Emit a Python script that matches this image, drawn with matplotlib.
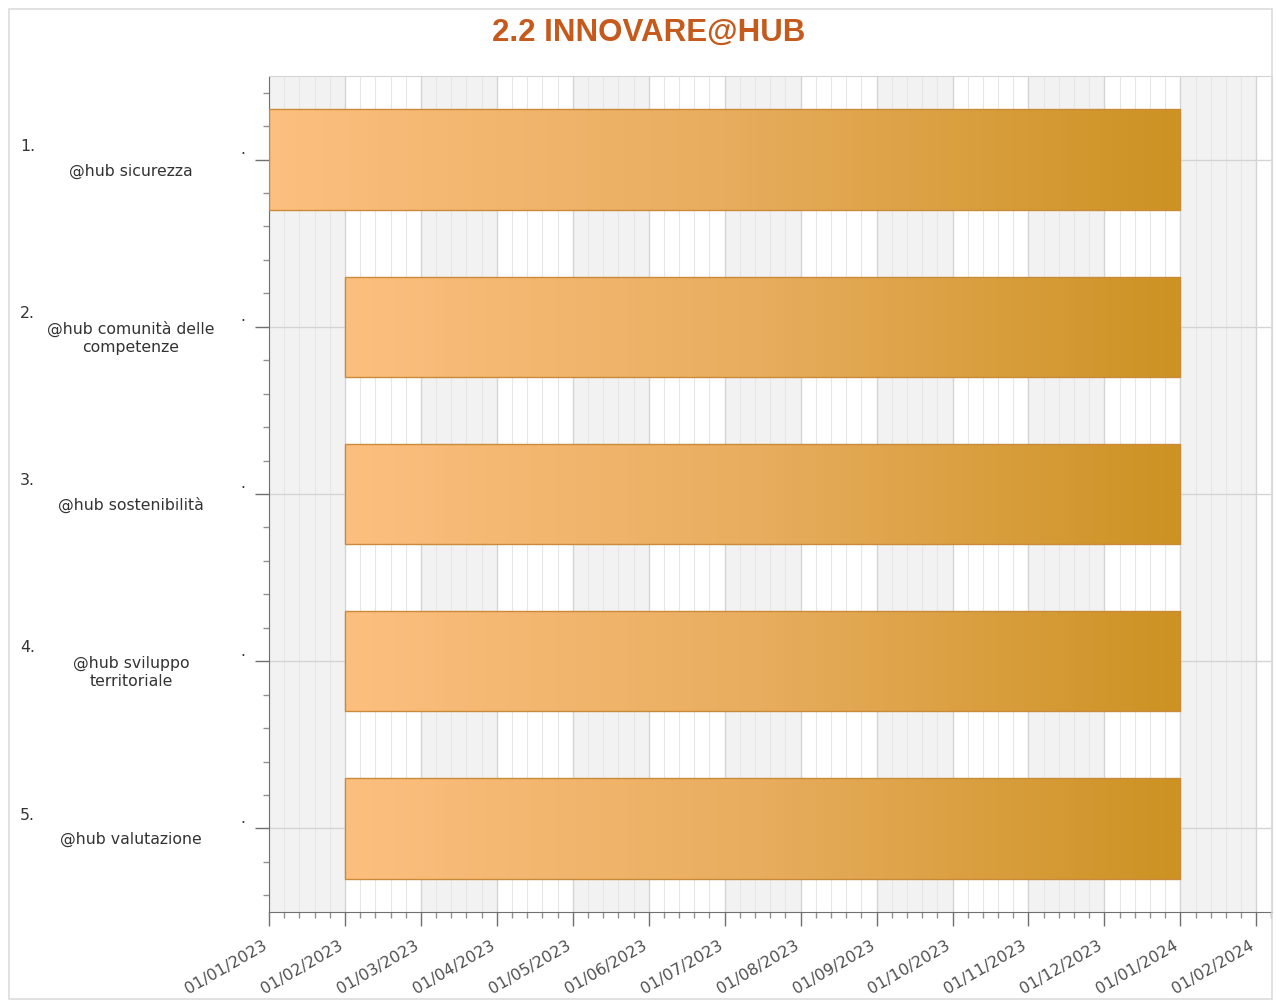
"""Gantt chart: 2.2 INNOVARE@HUB."""

import calendar
import datetime as dt

import matplotlib

matplotlib.use("Agg")
import matplotlib.pyplot as plt
import matplotlib.transforms as mtransforms
import numpy as np
from matplotlib.colors import LinearSegmentedColormap
from matplotlib.patches import Rectangle

title = "2.2 INNOVARE@HUB"
numbers = ["1.", "2.", "3.", "4.", "5."]
tasks = [
    "@hub sicurezza",
    "@hub comunità delle\ncompetenze",
    "@hub sostenibilità",
    "@hub sviluppo\nterritoriale",
    "@hub valutazione",
]
starts = ["2023-01-01", "2023-02-01", "2023-02-01", "2023-02-01", "2023-02-01"]
ends = ["2024-01-01", "2024-01-01", "2024-01-01", "2024-01-01", "2024-01-01"]
x_min = "2023-01-01"
x_max = "2024-02-07"


def months_since(s, base=dt.date(2023, 1, 1)):
    """Date -> fractional month index (each month same width, as in the source)."""
    t = dt.date.fromisoformat(s)
    n = calendar.monthrange(t.year, t.month)[1]
    return (t.year - base.year) * 12 + (t.month - base.month) + (t.day - 1) / n


W, H = 1276, 1000
fig = plt.figure(figsize=(W / 100, H / 100), dpi=100)
fig.patches.append(Rectangle((9 / W, 1 - 999 / H), 1263 / W, 990 / H,
                             transform=fig.transFigure, fill=False,
                             edgecolor="#dcdcdc", linewidth=1.2))

ax = fig.add_axes([269 / W, 1 - 912 / H, (1272 - 269) / W, (912 - 76) / H])

lo, hi = months_since(x_min), months_since(x_max)
n_months = int(np.ceil(hi))
major = np.arange(0, n_months + 1)
labels = [dt.date(2023 + k // 12, k % 12 + 1, 1).strftime("%d/%m/%Y") for k in major]

# alternating month bands
for k in major[:-1]:
    if k % 2 == 0:
        ax.axvspan(k, k + 1, color="#f2f2f2", zorder=0, lw=0)

# bars
y = np.arange(len(tasks))
left = [months_since(s) for s in starts]
width = [months_since(e) - months_since(s) for s, e in zip(starts, ends)]
bars = ax.barh(y, width, left=left, height=0.6, facecolor="none",
               edgecolor="#c98b3a", linewidth=1.0, zorder=3)
cmap = LinearSegmentedColormap.from_list("bar", ["#fdbf7f", "#e8ad5e", "#cc9222"])
grad = np.linspace(0, 1, 256).reshape(1, -1)
for p in bars:
    x0, y0 = p.get_x(), p.get_y()
    im = ax.imshow(grad, cmap=cmap, aspect="auto", zorder=2,
                   extent=(x0, x0 + p.get_width(), y0 + p.get_height(), y0))
    im.set_clip_path(p)

# axes styling
ax.set_xticks(major)
ax.set_xticklabels(labels)
ax.set_xticks([k + f for k in major for f in (0.2, 0.4, 0.6, 0.8)], minor=True)
ax.set_yticks(y)
ax.set_yticks([i + k for i in y for k in (-0.4, -0.2, 0.2, 0.4)], minor=True)
ax.set_yticklabels([])
ax.set_xlim(lo, hi)
ax.set_ylim(len(tasks) - 0.5, -0.5)

ax.grid(True, which="major", color="#d4d4d4", linewidth=1.0, zorder=1)
ax.grid(True, which="minor", axis="x", color="#e6e6e6", linewidth=0.8, zorder=1)
ax.set_axisbelow(True)
ax.tick_params(which="major", length=10, color="#707070", width=1)
ax.tick_params(which="minor", length=4, color="#909090", width=1)
ax.tick_params(axis="x", pad=4)
shift = mtransforms.ScaledTranslation(-0.07, -0.06, fig.dpi_scale_trans)
for lab in ax.get_xticklabels():
    lab.set_rotation(30)
    lab.set_ha("right")
    lab.set_rotation_mode("anchor")
    lab.set_fontsize(11.5)
    lab.set_color("#505050")
    lab.set_transform(lab.get_transform() + shift)
for s in ("left", "bottom"):
    ax.spines[s].set_color("#707070")
for s in ("top", "right"):
    ax.spines[s].set_color("#d4d4d4")

# category labels
tr = mtransforms.blended_transform_factory(fig.transFigure, ax.transData)
for i, (num, name) in enumerate(zip(numbers, tasks)):
    ax.text(20 / W, i - 0.08, num, transform=tr, ha="left", va="center",
            fontsize=11.3, color="#333333")
    ax.text(131 / W, i + 0.068, name, transform=tr, ha="center", va="center",
            fontsize=11.3, color="#333333", linespacing=1.25)
    ax.text(243 / W, i - 0.06, ".", transform=tr, ha="center", va="center",
            fontsize=11.3, color="#333333")

fig.text(649 / W, 1 - 33 / H, title, ha="center", va="center",
         fontsize=22.5, fontweight="bold", color="#c55a1c",
         family="Liberation Sans")

fig.savefig("out.png", dpi=100)
plt.close(fig)
